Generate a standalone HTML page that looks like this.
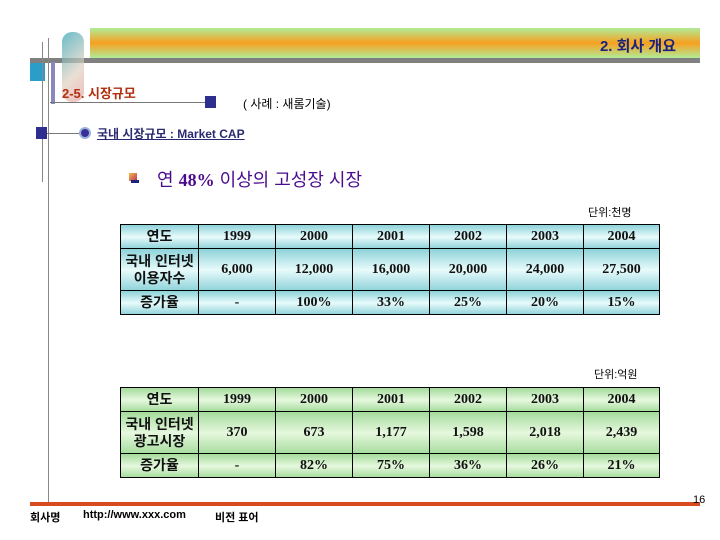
<!DOCTYPE html>
<html><head><meta charset="utf-8"><style>
body{margin:0;width:720px;height:540px;background:#fff;position:relative;overflow:hidden;font-family:"Liberation Sans","Noto Sans CJK KR",sans-serif}
.a{position:absolute}
table{position:absolute;left:120px;border-collapse:collapse;table-layout:fixed}
td{border:1.5px solid #000;padding:0;text-align:center;font-family:"Liberation Serif","Noto Serif CJK SC",serif;font-size:14px;font-weight:bold;color:#111}
td.k{font-family:"Liberation Sans","Noto Sans CJK KR",sans-serif;font-size:14px;line-height:17px}
.t1 td{background:linear-gradient(#8fd3da,#e8fbfb 50%,#8fd3da)}
.t2 td{background:linear-gradient(#a6dc9e,#e6f8de 50%,#a6dc9e)}
</style></head><body>
<div class="a" style="left:90px;top:28px;width:610px;height:30px;background:linear-gradient(#b0ec98,#f7a020 50%,#b0ec98)"></div>
<div class="a" style="right:44px;top:35px;font-size:15px;font-weight:bold;color:#1a237e">2. 회사 개요</div>
<div class="a" style="left:30px;top:58px;width:670px;height:5px;background:#808080"></div>
<div class="a" style="left:62px;top:32px;width:22px;height:70px;background:linear-gradient(135deg,#2aa0b0,#e0d0c0 60%,#e9a0a0);opacity:.7;border-radius:10px"></div>
<div class="a" style="left:30px;top:63px;width:15px;height:18px;background:#2a9ec8"></div>
<div class="a" style="left:48px;top:38px;width:1px;height:468px;background:#888"></div>
<div class="a" style="left:42px;top:42px;width:1px;height:140px;background:#888"></div>
<div class="a" style="left:51px;top:62px;width:4px;height:42px;background:#8888bb"></div>
<div class="a" style="left:62px;top:83px;font-size:13px;font-weight:bold;color:#b03010">2-5. 시장규모</div>
<div class="a" style="left:50px;top:102px;width:155px;height:1px;background:#777"></div>
<div class="a" style="left:205px;top:96px;width:11px;height:12px;background:#2e2e8f"></div>
<div class="a" style="left:243px;top:95px;font-size:12px;color:#000">( 사례 : 새롬기술)</div>
<div class="a" style="left:36px;top:127px;width:11px;height:12px;background:#2e2e8f"></div>
<div class="a" style="left:47px;top:133px;width:33px;height:1px;background:#777"></div>
<div class="a" style="left:79px;top:127px;width:8px;height:8px;border-radius:50%;background:#3a2f9a;border:2px solid #9ab0d8"></div>
<div class="a" style="left:97px;top:125px;font-size:12px;font-weight:bold;color:#2a2a70;text-decoration:underline">국내 시장규모 : Market CAP</div>
<div class="a" style="left:129px;top:173px;width:8px;height:8px;background:linear-gradient(135deg,#f0c040,#c03060)"></div>
<div class="a" style="left:131px;top:180px;width:8px;height:3px;background:#1a237e"></div>
<div class="a" style="left:157px;top:166px;font-size:18px;color:#4b0b8e"><span>연 </span><span style="font-family:'Liberation Serif',serif;font-weight:bold">48%</span> 이상의 고성장 시장</div>
<div class="a" style="left:588px;top:204px;font-size:11px">단위:천명</div>
<table class="t1" style="top:224px">
<colgroup><col style="width:78px"><col style="width:77px"><col style="width:77px"><col style="width:77px"><col style="width:77px"><col style="width:77px"><col style="width:76px"></colgroup>
<tr style="height:24px"><td class="k">연도</td><td>1999</td><td>2000</td><td>2001</td><td>2002</td><td>2003</td><td>2004</td></tr>
<tr style="height:42px"><td class="k">국내 인터넷<br>이용자수</td><td>6,000</td><td>12,000</td><td>16,000</td><td>20,000</td><td>24,000</td><td>27,500</td></tr>
<tr style="height:24px"><td class="k">증가율</td><td>-</td><td>100%</td><td>33%</td><td>25%</td><td>20%</td><td>15%</td></tr>
</table>
<div class="a" style="left:594px;top:366px;font-size:11px">단위:억원</div>
<table class="t2" style="top:387px">
<colgroup><col style="width:78px"><col style="width:77px"><col style="width:77px"><col style="width:77px"><col style="width:77px"><col style="width:77px"><col style="width:76px"></colgroup>
<tr style="height:24px"><td class="k">연도</td><td>1999</td><td>2000</td><td>2001</td><td>2002</td><td>2003</td><td>2004</td></tr>
<tr style="height:42px"><td class="k">국내 인터넷<br>광고시장</td><td>370</td><td>673</td><td>1,177</td><td>1,598</td><td>2,018</td><td>2,439</td></tr>
<tr style="height:24px"><td class="k">증가율</td><td>-</td><td>82%</td><td>75%</td><td>36%</td><td>26%</td><td>21%</td></tr>
</table>
<div class="a" style="left:30px;top:502px;width:670px;height:4px;background:#d84a20"></div>
<div class="a" style="left:693px;top:494px;font-size:11px">16</div>
<div class="a" style="left:30px;top:509px;font-size:11px;font-weight:bold">회사명</div>
<div class="a" style="left:83px;top:509px;font-size:11px;font-weight:bold">http://www.xxx.com</div>
<div class="a" style="left:215px;top:509px;font-size:11px;font-weight:bold">비전 표어</div>
</body></html>
